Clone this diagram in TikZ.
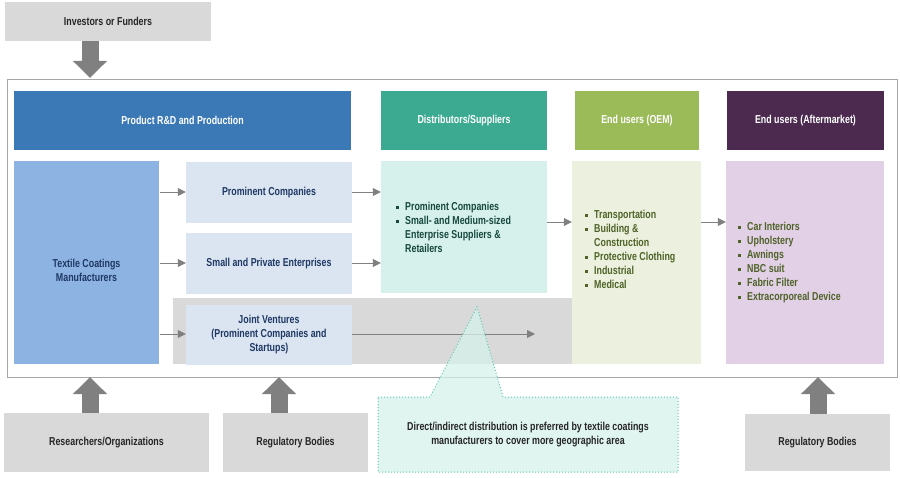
\documentclass[tikz,border=0pt]{standalone}
\usepackage{fontspec}
\setmainfont{Liberation Sans}[FakeStretch=0.77]
\usetikzlibrary{arrows.meta}
\definecolor{hblue}{RGB}{58,120,182}
\definecolor{hteal}{RGB}{60,170,145}
\definecolor{holive}{RGB}{155,187,89}
\definecolor{hplum}{RGB}{76,42,80}
\definecolor{tblue}{RGB}{141,179,226}
\definecolor{lblue}{RGB}{219,229,241}
\definecolor{lteal}{RGB}{214,240,235}
\definecolor{lolive}{RGB}{235,241,222}
\definecolor{lplum}{RGB}{225,208,230}
\definecolor{lgrey}{RGB}{217,217,217}
\definecolor{agrey}{RGB}{128,128,128}
\definecolor{fgrey}{RGB}{166,166,166}
\definecolor{navy}{RGB}{31,56,100}
\definecolor{dteal}{RGB}{22,72,62}
\definecolor{dolive}{RGB}{79,98,40}
\definecolor{dgrey}{RGB}{38,38,38}
\definecolor{cborder}{RGB}{95,200,180}
\definecolor{cfill}{RGB}{214,242,235}
\newcommand\itm{\makebox[9pt][l]{\rule[0.25ex]{2.6pt}{2.6pt}}}
\newcommand\cnt{\hspace*{9pt}}
\begin{document}
\begin{tikzpicture}[x=1pt,y=-1pt,
  font=\bfseries\fontsize{11.5}{14}\selectfont,
  box/.style={rectangle,draw=none,inner sep=2pt,align=center},
  hdr/.style={box,text=white,minimum height=59pt},
  gbox/.style={box,fill=lgrey,text=dgrey},
  bbox/.style={box,fill=lblue,text=navy,minimum width=166pt},
  lst/.style={anchor=west,inner sep=0pt,align=left},
  sarrow/.style={draw=agrey,line width=0.8pt,-{Triangle[width=8pt,length=8pt]},agrey},
  fat/.style={draw=agrey,line width=17pt,-{Triangle[width=33pt,length=17pt]},agrey}]
\useasboundingbox (0,0) rectangle (900,478);
% top
\node[gbox,minimum width=206pt,minimum height=39pt] (inv) at (108,21.5) {Investors or Funders};
\node[rectangle,draw=fgrey,line width=0.8pt,fill=white,minimum width=890pt,minimum height=298pt] (frame) at (452,228) {};
% headers
\node[hdr,fill=hblue,minimum width=337pt] (hrd) at (182.5,120.5) {Product R\&D and Production};
\node[hdr,fill=hteal,minimum width=166pt] (hds) at (464,120.5) {Distributors/Suppliers};
\node[hdr,fill=holive,minimum width=124pt] (hoem) at (637,120.5) {End users (OEM)};
\node[hdr,fill=hplum,minimum width=157pt] (ham) at (805.5,120.5) {End users (Aftermarket)};
% bodies
\fill[lgrey] (173,298) rectangle (572,364);
\node[box,fill=tblue,minimum width=145pt,minimum height=203pt,
  label={[text=navy,align=center,yshift=-7.5pt]center:Textile Coatings\\Manufacturers}] (tex) at (86.5,262.5) {};
\node[bbox,minimum height=61pt] (pc) at (269,192.5) {Prominent Companies};
\node[bbox,minimum height=61pt] (spe) at (269,263.5) {Small and Private Enterprises};
\node[bbox,minimum height=60pt] (jv) at (269,335) {Joint Ventures\\(Prominent Companies and\\Startups)};
\node[box,fill=lteal,minimum width=166pt,minimum height=132pt] (dist) at (464,227) {};
\node[box,fill=lolive,minimum width=129pt,minimum height=203pt] (oem) at (636.5,262.5) {};
\node[box,fill=lplum,minimum width=158pt,minimum height=203pt] (am) at (805,262.5) {};
\node[lst,text=dteal] (distl) at (396,227.5) {\itm Prominent Companies\\\itm Small- and Medium-sized\\\cnt Enterprise Suppliers \&\\\cnt Retailers};
\node[lst,text=dolive] (oeml) at (585,249) {\itm Transportation\\\itm Building \&\\\cnt Construction\\\itm Protective Clothing\\\itm Industrial\\\itm Medical};
\node[lst,text=dolive] (aml) at (738,262.5) {\itm Car Interiors\\\itm Upholstery\\\itm Awnings\\\itm NBC suit\\\itm Fabric Filter\\\itm Extracorporeal Device};
% small arrows
\coordinate (jvend) at (535,334);
\draw[sarrow] ([xshift=1pt]tex.east |- 0,192) -- (pc.west |- 0,192);
\draw[sarrow] ([xshift=1pt]tex.east |- 0,263) -- (spe.west |- 0,263);
\draw[sarrow] ([xshift=1pt]tex.east |- 0,334) -- (jv.west |- 0,334);
\draw[sarrow] (pc.east |- 0,192) -- (dist.west |- 0,192);
\draw[sarrow] (spe.east |- 0,263) -- (dist.west |- 0,263);
\draw[sarrow] (jv.east |- jvend) -- (jvend);
\draw[sarrow] ([yshift=5pt]dist.east) -- ([yshift=5pt]dist.east -| oem.west);
\draw[sarrow] ([yshift=40.5pt]oem.east) -- ([yshift=40.5pt]oem.east -| am.west);
% bottom boxes
\node[gbox,minimum width=205pt,minimum height=59pt] (res) at (106.5,442.5) {Researchers/Organizations};
\node[gbox,minimum width=145pt,minimum height=59pt] (reg1) at (295.5,442.5) {Regulatory Bodies};
\node[gbox,minimum width=145pt,minimum height=57pt] (reg2) at (817.5,442.5) {Regulatory Bodies};
% fat arrows
\coordinate (t1) at (90,78);
\coordinate (b1) at (90,377);
\coordinate (b2) at (279,377);
\coordinate (b3) at (818,377);
\draw[fat] (inv.south -| t1) -- (t1);
\draw[fat] (res.north -| b1) -- (b1);
\draw[fat] (reg1.north -| b2) -- (b2);
\draw[fat] (reg2.north -| b3) -- (b3);
% callout
\filldraw[fill=cfill,fill opacity=0.75,draw=cborder,line width=1pt,dotted]
  (378,397) -- (430,397) -- (477,307) -- (503,397) -- (678,397) -- (678,472) -- (378,472) -- cycle;
\node[box,text=dgrey] (note) at (528,435) {Direct/indirect distribution is preferred by textile coatings\\manufacturers to cover more geographic area};
\end{tikzpicture}
\end{document}
